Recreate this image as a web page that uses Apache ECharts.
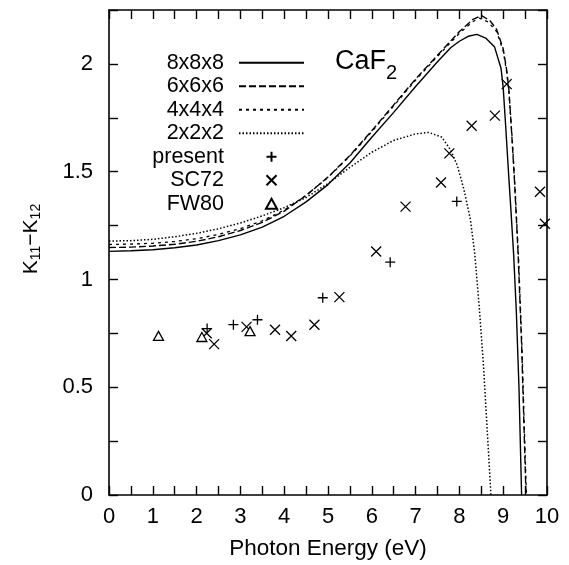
<!DOCTYPE html>
<html>
<head>
<meta charset="utf-8">
<script src="https://cdn.jsdelivr.net/npm/echarts@6/dist/echarts.min.js"></script>
<style>
  html, body { margin: 0; padding: 0; background: #fff; }
  #chart { width: 569px; height: 565px; }
</style>
</head>
<body>
<div id="chart"></div>
<script>
// 计算曲线 (x, y)
var k888 = [[0,1.13],[0.5,1.133],[1,1.138],[1.5,1.147],[2,1.16],[2.5,1.18],[3,1.207],[3.5,1.243],[4,1.293],[4.5,1.36],[5,1.44],[5.5,1.54],[6,1.66],[6.5,1.775],[7,1.895],[7.5,2.01],[7.8,2.075],[8,2.105],[8.2,2.128],[8.4,2.137],[8.6,2.12],[8.8,2.08],[8.95,1.98],[9,1.89],[9.06,1.7],[9.12,1.5],[9.18,1.31],[9.24,1.11],[9.3,0.85],[9.36,0.5],[9.42,0]];
var k666 = [[0,1.148],[0.5,1.15],[1,1.155],[1.5,1.163],[2,1.177],[2.5,1.198],[3,1.227],[3.5,1.265],[4,1.317],[4.5,1.39],[5,1.475],[5.5,1.575],[6,1.69],[6.5,1.81],[7,1.93],[7.5,2.04],[8,2.15],[8.3,2.205],[8.5,2.225],[8.7,2.2],[8.85,2.16],[9,2.07],[9.08,1.97],[9.13,1.88],[9.19,1.69],[9.26,1.45],[9.34,1.12],[9.42,0.7],[9.47,0.35],[9.52,0]];
var k444 = [[0,1.162],[0.5,1.164],[1,1.168],[1.5,1.176],[2,1.189],[2.5,1.209],[3,1.236],[3.5,1.272],[4,1.322],[4.5,1.39],[5,1.473],[5.5,1.572],[6,1.686],[6.5,1.805],[7,1.925],[7.5,2.035],[8,2.142],[8.3,2.195],[8.45,2.213],[8.65,2.195],[8.85,2.15],[9,2.06],[9.08,1.96],[9.13,1.87],[9.2,1.67],[9.27,1.43],[9.35,1.1],[9.43,0.68],[9.48,0.33],[9.53,0]];
var k222 = [[0,1.178],[0.5,1.18],[1,1.186],[1.5,1.198],[2,1.214],[2.5,1.235],[3,1.262],[3.5,1.295],[4,1.333],[4.5,1.38],[5,1.445],[5.5,1.52],[6,1.59],[6.5,1.645],[7,1.675],[7.3,1.682],[7.6,1.66],[7.8,1.6],[7.95,1.53],[8.1,1.42],[8.25,1.28],[8.35,1.12],[8.45,0.88],[8.55,0.6],[8.63,0.32],[8.72,0]];
// 实验数据
var present = [[2.24,0.772],[2.84,0.79],[3.39,0.813],[4.88,0.915],[6.42,1.08],[7.94,1.362]];
var sc72 = [[2.23,0.75],[2.4,0.7],[3.14,0.78],[3.79,0.767],[4.16,0.738],[4.69,0.79],[5.26,0.918],[6.1,1.13],[6.77,1.338],[7.58,1.45],[7.77,1.585],[8.28,1.713],[8.81,1.76],[9.08,1.906],[9.84,1.407],[9.95,1.258]];
var fw80 = [[1.13,0.738],[2.12,0.733],[3.22,0.76]];

var legendNames = ['8x8x8','6x6x6','4x4x4','2x2x2','present','SC72','FW80'];

var font = "'Liberation Sans', Arial, Helvetica, sans-serif";

function xAxisOpt(pos) {
    return {
        type: 'value', position: pos, min: 0, max: 10, interval: 0.5,
        axisLine: { show: true, onZero: false, lineStyle: { color: '#000', width: 1.6 } },
        axisTick: { show: true, inside: true, length: 9, lineStyle: { color: '#000', width: 1.4 } },
        axisLabel: {
            show: pos === 'bottom', color: '#000', fontSize: 22, fontFamily: font, margin: 11,
            formatter: function (v) { return v % 1 === 0 ? String(v) : ''; }
        },
        splitLine: { show: false }
    };
}
function yAxisOpt(pos) {
    return {
        type: 'value', position: pos, min: 0, max: 2.25, interval: 0.25,
        axisLine: { show: true, onZero: false, lineStyle: { color: '#000', width: 1.6 } },
        axisTick: { show: true, inside: true, length: 9, lineStyle: { color: '#000', width: 1.4 } },
        axisLabel: {
            show: pos === 'left', color: '#000', fontSize: 22, fontFamily: font, margin: 16,
            formatter: function (v) { return (Math.round(v * 100) % 50 === 0 && v < 2.2) ? String(v) : ''; }
        },
        splitLine: { show: false }
    };
}

function curve(name, data, type, w) {
    return {
        name: name, type: 'line', data: data, symbol: 'none', showSymbol: false,
        xAxisIndex: 0, yAxisIndex: 0, animation: false,
        lineStyle: { color: '#000', width: w, type: type },
        // 图例中不显示圆点
        itemStyle: { color: 'transparent', borderWidth: 0 }
    };
}
function points(name, data, symbol, size, fill) {
    return {
        name: name, type: 'scatter', data: data, symbol: symbol, symbolSize: size,
        symbolKeepAspect: true,
        xAxisIndex: 0, yAxisIndex: 0, animation: false,
        itemStyle: { color: fill, borderColor: '#000', borderWidth: 1.3, opacity: 1 }
    };
}

var myChart = echarts.init(document.getElementById('chart'), null, { renderer: 'canvas' });
var xa = xAxisOpt('bottom');
xa.name = 'Photon Energy (eV)';
xa.nameLocation = 'middle';
xa.nameGap = 42;
xa.nameTextStyle = { color: '#000', fontSize: 22.5, fontFamily: font };

myChart.setOption({
    backgroundColor: '#fff',
    animation: false,
    grid: { left: 109, right: 22, top: 10, bottom: 70, containLabel: false },
    xAxis: [xa, xAxisOpt('top')],
    yAxis: [yAxisOpt('left'), yAxisOpt('right')],
    legend: {
        data: legendNames,
        orient: 'vertical', align: 'right', right: 264, top: 51, padding: 0,
        itemWidth: 65, itemHeight: 10, itemGap: 0, selectedMode: false,
        textStyle: { color: '#000', fontSize: 21.5, fontFamily: font, lineHeight: 23.5, padding: [0, 10, 0, 0] }
    },
    graphic: [
        {
            type: 'text', x: 335, y: 62,
            style: {
                text: 'CaF{sub|2}', fill: '#000', font: '27px ' + font,
                verticalAlign: 'middle', align: 'left',
                rich: { sub: { fontSize: 20, fontFamily: font, padding: [22, 0, 0, 0] } }
            }
        },
        {
            type: 'text', x: 31, y: 239, rotation: Math.PI / 2,
            style: {
                text: 'K{s|11}\u2212K{s|12}', fill: '#000', font: '21px ' + font,
                align: 'center', verticalAlign: 'middle',
                rich: { s: { fontSize: 14, fontFamily: font, padding: [10, 0, 0, 0] } }
            }
        }
    ],
    series: [
        curve('8x8x8', k888, 'solid', 1.4),
        curve('6x6x6', k666, [7, 3], 1.4),
        curve('4x4x4', k444, [3, 4], 1.3),
        curve('2x2x2', k222, [1.5, 2], 1.5),
        points('present', present, 'path://M5,0L5,10M0,5L10,5', 10, 'transparent'),
        points('SC72', sc72, 'path://M0,0L10,10M10,0L0,10', 10, 'transparent'),
        points('FW80', fw80, 'path://M5,0L10,9L0,9Z', 10, '#fff')
    ]
});
</script>
</body>
</html>
